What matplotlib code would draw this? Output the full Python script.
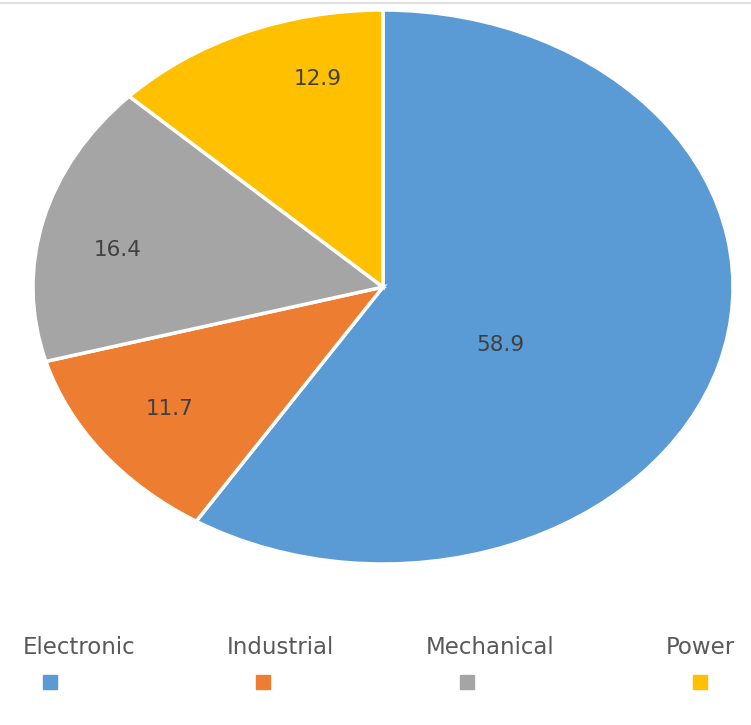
import matplotlib.pyplot as plt
from matplotlib.lines import Line2D

categories = ['Electronic', 'Industrial', 'Mechanical', 'Power']
values = [58.9, 11.7, 16.4, 12.9]
colors = ['#5B9BD5', '#ED7D31', '#A5A5A5', '#FFC000']

# where the value labels sit, in pie units (radius = 1)
label_pos = [(0.334, -0.209), (-0.609, -0.44), (-0.757, 0.134), (-0.186, 0.75)]

W, H = 751, 725
fig = plt.figure(figsize=(W / 100, H / 100), dpi=100)

# pie axes: ellipse stretched horizontally like the original
cx, cy, rx, ry = 383, 287, 350, 277
ax = fig.add_axes([(cx - rx) / W, (H - cy - ry) / H, 2 * rx / W, 2 * ry / H])
total = sum(values)
wedges, texts, autotexts = ax.pie(
    values, colors=colors, startangle=90, counterclock=False,
    autopct=lambda p: f'{p * total / 100:.1f}',
    wedgeprops=dict(edgecolor='white', linewidth=2.5),
    textprops=dict(color='#404040', fontsize=15.5))
ax.set_aspect('auto')
ax.set_xlim(-1, 1)
ax.set_ylim(-1, 1)
ax.axis('off')

for t, pos in zip(autotexts, label_pos):
    t.set_position(pos)

# thin border line at top
fig.add_artist(Line2D([0, 1], [1 - 3 / H, 1 - 3 / H], color='#d9d9d9', lw=1.2))

# legend: labels on one row, swatches below
label_x = [79, 280, 490, 700]
swatch_x = [50, 263, 467, 700]
for name, c, lx, sx in zip(categories, colors, label_x, swatch_x):
    fig.text(lx / W, 1 - 648 / H, name, ha='center', va='center',
             fontsize=16.5, color='#595959')
    fig.add_artist(Line2D([sx / W], [1 - 682 / H], marker='s', markersize=10,
                          color=c, linestyle='none'))

fig.savefig('out.png', dpi=100)
